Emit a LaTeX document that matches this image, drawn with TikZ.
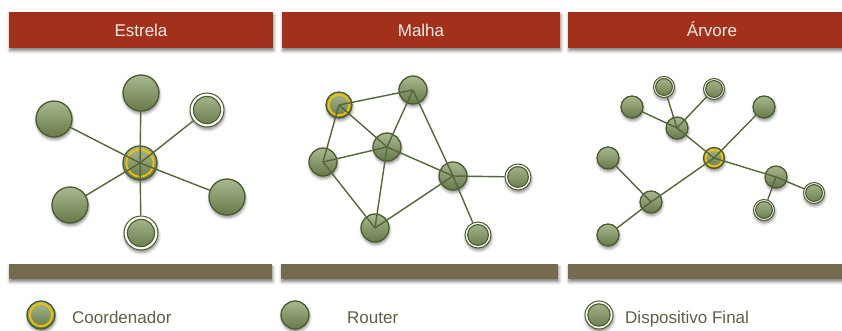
\documentclass[tikz,border=0pt]{standalone}
\usepackage{fontspec}
\setmainfont{Liberation Sans}
\usetikzlibrary{shadows.blur}

\definecolor{hdrred}{HTML}{A2301A}
\definecolor{basebar}{HTML}{756C50}
\definecolor{ntop}{HTML}{A9B98F}
\definecolor{nbot}{HTML}{67794A}
\definecolor{nodeedge}{HTML}{4A5B2D}
\definecolor{linkcol}{HTML}{53673A}
\definecolor{ringgold}{HTML}{F2C200}
\definecolor{legtext}{HTML}{5A6245}
\definecolor{hdrtext}{HTML}{F6ECE8}

\tikzset{
  softshadow/.style={blur shadow={shadow xshift=0.6pt, shadow yshift=-2.6pt,
      shadow blur radius=2.8pt, shadow opacity=45}},
  router/.style={circle, inner sep=0pt, minimum size={2*#1 pt},
      draw=nodeedge, line width=1.3pt, top color=ntop, bottom color=nbot, softshadow},
  coordnode/.style={router=#1,
      path picture={\draw[draw=ringgold, line width=1.8pt]
        (path picture bounding box.center) circle[radius={0.8*#1 pt}];}},
  enddev/.style={circle, inner sep=0pt, minimum size={2*#1 pt},
      draw=nodeedge, line width=1pt, fill=white, softshadow,
      path picture={\shade[top color=ntop, bottom color=nbot, draw=nodeedge, line width=1.1pt]
        (path picture bounding box.center) circle[radius={0.8*#1 pt}];}},
  link/.style={draw=linkcol, line width=1.4pt},
  header/.style={rectangle, fill=hdrred, inner sep=0pt, minimum height=36pt,
      text=hdrtext, font=\fontsize{17}{17}\selectfont, text height=12.2pt, text depth=0pt,
      blur shadow={shadow xshift=0.8pt, shadow yshift=-2.8pt, shadow blur radius=3pt, shadow opacity=50}},
  footbar/.style={rectangle, fill=basebar, inner sep=0pt, minimum height=15pt,
      blur shadow={shadow xshift=0.8pt, shadow yshift=-2.8pt, shadow blur radius=3pt, shadow opacity=50}},
  legend/.style={anchor=base west, inner sep=0pt, text=legtext, font=\fontsize{17}{17}\selectfont},
}

\begin{document}
\begin{tikzpicture}[x=1pt, y=-1pt]
\useasboundingbox (0,0) rectangle (842,331);

% title bars
\node[header, minimum width=264pt] (h1) at (141,30) {Estrela};
\node[header, minimum width=278pt] (h2) at (421,30) {Malha};
\node[header, minimum width=288pt] (h3) at (712,30) {Árvore};

% base bars
\node[footbar, minimum width=263pt] (f1) at (140.5,271.5) {};
\node[footbar, minimum width=277pt] (f2) at (419.5,271.5) {};
\node[footbar, minimum width=288pt] (f3) at (712,271.5) {};

% star topology
\node[coordnode=17] (c)  at (140,163) {};
\node[router=18]    (s1) at (141,93)  {};
\node[router=18]    (s2) at (54,119)  {};
\node[enddev=17]    (s3) at (207,110) {};
\node[router=18]    (s4) at (227,197) {};
\node[router=18]    (s5) at (70,205)  {};
\node[enddev=17]    (s6) at (141,233) {};
\foreach \n in {s1,s2,s3,s4,s5,s6}
  \draw[link] (c.center) -- (\n);

% mesh topology
\node[coordnode=13] (m1) at (339,105) {};
\node[router=14]    (m2) at (413,90)  {};
\node[router=14]    (m3) at (387,147) {};
\node[router=14]    (m4) at (323,162) {};
\node[router=14]    (m5) at (453,176) {};
\node[router=14]    (m6) at (375,228) {};
\node[enddev=13]    (m7) at (518,177) {};
\node[enddev=13]    (m8) at (478,235) {};
\foreach \a/\b in {m1/m2, m1/m3, m1/m4, m2/m3, m2/m5, m4/m3, m4/m6, m3/m6, m3/m5, m6/m5}
  \draw[link] (\a.center) -- (\b.center);
\draw[link] (m5.center) -- (m7);
\draw[link] (m5.center) -- (m8);

% tree topology
\node[coordnode=10.5] (t0)  at (714,158) {};
\node[router=11]      (tA)  at (677,128) {};
\node[router=11]      (tL1) at (632,107) {};
\node[enddev=10.5]    (tE1) at (664,87)  {};
\node[enddev=10.5]    (tE2) at (714,89)  {};
\node[router=11]      (tL2) at (764,107) {};
\node[router=11]      (tB)  at (776,177) {};
\node[enddev=10.5]    (tE3) at (814,193) {};
\node[enddev=10.5]    (tE4) at (764,210) {};
\node[router=11]      (tC)  at (651,202) {};
\node[router=11]      (tL3) at (608,158) {};
\node[router=11]      (tL4) at (608,235) {};
\draw[link] (t0.center) -- (tA.center);
\draw[link] (t0.center) -- (tB.center);
\draw[link] (t0.center) -- (tC.center);
\draw[link] (t0.center) -- (tL2);
\draw[link] (tA.center) -- (tL1);
\draw[link] (tA.center) -- (tE1);
\draw[link] (tA.center) -- (tE2);
\draw[link] (tB.center) -- (tE3);
\draw[link] (tB.center) -- (tE4);
\draw[link] (tC.center) -- (tL3);
\draw[link] (tC.center) -- (tL4);

% legend
\node[coordnode=14] (k1) at (41,315)  {};
\node[legend]       (k1t) at (72,323) {Coordenador};
\node[router=14]    (k2) at (295,315) {};
\node[legend]       (k2t) at (347,323) {Router};
\node[enddev=14]    (k3) at (599,315) {};
\node[legend]       (k3t) at (625,323) {Dispositivo Final};
\end{tikzpicture}
\end{document}
